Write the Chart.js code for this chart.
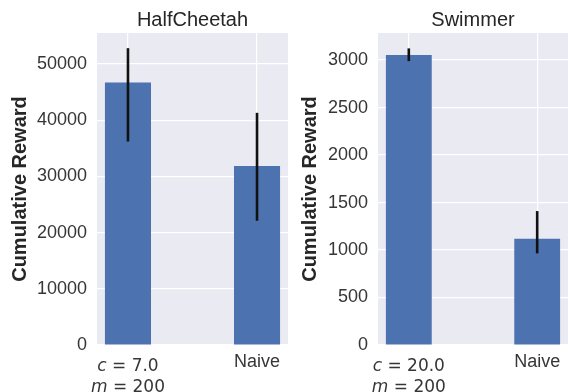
<!DOCTYPE html>
<html>
<head>
<meta charset="utf-8">
<script src="https://cdn.jsdelivr.net/npm/chart.js@4.4.0/dist/chart.umd.min.js"></script>
<style>
  html, body { margin: 0; padding: 0; background: #fff; }
  #wrap { position: relative; width: 568px; height: 392px; overflow: hidden; }
  canvas { position: absolute; top: 0; }
</style>
</head>
<body>
<div id="wrap">
  <canvas id="cheetah" style="left:0px"></canvas>
  <canvas id="swimmer" style="left:290px"></canvas>
</div>
<script>
// categories (math labels are split into lines; first letter is the italic variable)
const cheetahCats = [['c = 7.0', 'm = 200'], 'Naive'];
const swimmerCats = [['c = 20.0', 'm = 200'], 'Naive'];
const xTicks = [0, 1];

// HalfCheetah values
const cheetahMean = [46700, 31850];
const cheetahLow = [36200, 22100];
const cheetahHigh = [52800, 41300];

// Swimmer values
const swimmerMean = [3053, 1119];
const swimmerLow = [2989, 965];
const swimmerHigh = [3123, 1410];

// y axis ticks
const cheetahTicks = [0, 10000, 20000, 30000, 40000, 50000];
const swimmerTicks = [0, 500, 1000, 1500, 2000, 2500, 3000];
const cheetahMax = 55500;
const swimmerMax = 3285;

const BAR = '#4C72B0';
const BG = '#EAEAF2';
const TXT = '#363636';

const bgPlugin = {
  id: 'bg',
  beforeDraw(chart) {
    const a = chart.chartArea, ctx = chart.ctx;
    ctx.save();
    ctx.fillStyle = BG;
    ctx.fillRect(a.left, a.top, a.right - a.left, a.bottom - a.top);
    ctx.restore();
  }
};

const errPlugin = {
  id: 'err',
  afterDatasetsDraw(chart, args, opts) {
    const ctx = chart.ctx, x = chart.scales.x, y = chart.scales.y;
    ctx.save();
    ctx.strokeStyle = '#111';
    ctx.lineWidth = 2.6;
    opts.low.forEach((lo, i) => {
      const px = x.getPixelForValue(i);
      ctx.beginPath();
      ctx.moveTo(px, y.getPixelForValue(lo));
      ctx.lineTo(px, y.getPixelForValue(opts.high[i]));
      ctx.stroke();
    });
    ctx.restore();
  }
};

// draws "c = 7.0" style labels with an italic variable letter
const mathPlugin = {
  id: 'math',
  afterDraw(chart, args, opts) {
    const ctx = chart.ctx, x = chart.scales.x;
    ctx.save();
    ctx.fillStyle = TXT;
    ctx.textBaseline = 'alphabetic';
    ctx.textAlign = 'left';
    opts.cats.forEach((c, i) => {
      if (!Array.isArray(c)) return;
      const px = x.getPixelForValue(i);
      c.forEach((line, j) => {
        const v = line[0], rest = line.slice(1);
        ctx.font = 'oblique 17px "DejaVu Sans"';
        const w1 = ctx.measureText(v).width;
        ctx.font = '17px "DejaVu Sans"';
        const w2 = ctx.measureText(rest).width;
        const start = px - (w1 + w2) / 2;
        const by = x.top + 26 + j * 21;
        ctx.font = 'oblique 17px "DejaVu Sans"';
        ctx.fillText(v, start, by);
        ctx.font = '17px "DejaVu Sans"';
        ctx.fillText(rest, start + w1, by);
      });
    });
    ctx.restore();
  }
};

function makeChart(id, width, title, cats, mean, low, high, yTicks, max, yWidth, padRight) {
  const cv = document.getElementById(id);
  cv.width = width;
  cv.height = 392;
  cv.style.width = width + 'px';
  cv.style.height = '392px';
  return new Chart(cv.getContext('2d'), {
    type: 'bar',
    data: {
      datasets: [{
        data: mean.map((v, i) => ({ x: i, y: v })),
        backgroundColor: BAR,
        borderWidth: 0,
        barPercentage: 0.357,
        categoryPercentage: 1
      }]
    },
    options: {
      responsive: false,
      animation: false,
      layout: { padding: { left: 0, right: padRight, top: 0, bottom: 0 } },
      plugins: {
        legend: { display: false },
        tooltip: { enabled: false },
        title: {
          display: true,
          text: title,
          fullSize: false,
          color: '#262626',
          font: { family: 'Liberation Sans', size: 20, weight: 'normal' },
          padding: { top: 8, bottom: 1 }
        },
        err: { low: low, high: high },
        math: { cats: cats }
      },
      scales: {
        x: {
          type: 'linear',
          min: -0.24,
          max: 1.24,
          offset: false,
          grid: { color: '#fff', lineWidth: 1.2, drawTicks: false, offset: false },
          border: { display: false },
          afterBuildTicks: (s) => { s.ticks = xTicks.map(v => ({ value: v })); },
          ticks: {
            maxRotation: 0,
            autoSkip: false,
            padding: 6,
            color: TXT,
            font: { family: 'Liberation Sans', size: 18 },
            callback: (v) => {
              const c = cats[v];
              return Array.isArray(c) ? '' : c;
            }
          },
          afterFit: (s) => { s.height = 47; }
        },
        y: {
          min: 0,
          max: max,
          grid: { color: '#fff', lineWidth: 1.2, drawTicks: false },
          border: { display: false },
          afterBuildTicks: (s) => { s.ticks = yTicks.map(v => ({ value: v })); },
          ticks: {
            padding: 10,
            color: TXT,
            font: { family: 'Liberation Sans', size: 18 },
            callback: (v) => String(v)
          },
          title: {
            display: true,
            text: 'Cumulative Reward',
            color: '#262626',
            font: { family: 'Liberation Sans', size: 20, weight: 'bold' },
            padding: { top: 8, bottom: 0 }
          },
          afterFit: (s) => { s.width = yWidth; }
        }
      }
    },
    plugins: [bgPlugin, errPlugin, mathPlugin]
  });
}

makeChart('cheetah', 290, 'HalfCheetah', cheetahCats, cheetahMean, cheetahLow, cheetahHigh,
  cheetahTicks, cheetahMax, 97, 2);
makeChart('swimmer', 278, 'Swimmer', swimmerCats, swimmerMean, swimmerLow, swimmerHigh,
  swimmerTicks, swimmerMax, 88, 0);
</script>
</body>
</html>
